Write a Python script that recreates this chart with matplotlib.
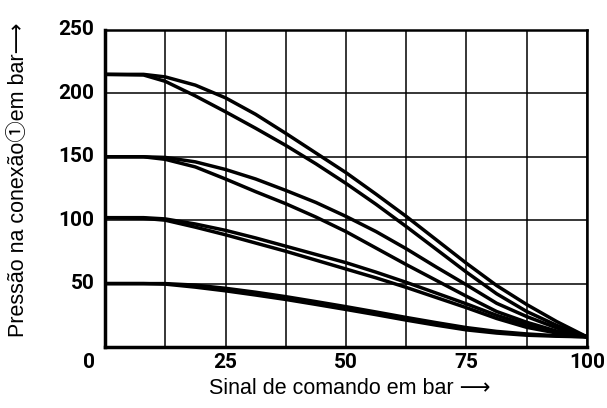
import matplotlib.pyplot as plt
import numpy as np

x_pts = [0, 8, 12.5, 18.75, 25, 31.25, 37.5, 43.75, 50, 56.25, 62.5, 68.75, 75, 81.25, 87.5, 93.75, 100]

p215_upper = [215, 215, 213, 206.5, 196.5, 183.5, 168.5, 153, 137.5, 120.5, 103, 84.5, 66, 48.5, 33.5, 20, 8]
p215_lower = [215, 214.5, 209.5, 198, 185.5, 172.5, 159, 144.5, 129, 112.5, 95, 77, 59, 42, 28, 17, 8]
p150_upper = [150, 150, 149.5, 146, 140, 132.5, 123.5, 114, 103, 91, 77.5, 63, 49, 34.5, 24, 15, 8]
p150_lower = [150, 150, 148, 142, 132.5, 122.5, 113, 102.5, 91, 78, 65, 52.5, 40, 28, 19.5, 12.5, 8]
p100_upper = [102, 102, 101, 97, 92, 86, 79.5, 73, 66.5, 59, 51, 42.5, 34, 25, 17.5, 12, 8]
p100_lower = [102, 101.5, 100, 94.5, 88.5, 82, 75.5, 68.5, 61.5, 54.5, 47, 39, 31, 22.5, 15.5, 11, 8]
p50_upper = [50, 50, 50, 48.8, 46.3, 43.2, 39.7, 35.8, 31.8, 27.6, 23.3, 19.2, 15.3, 12.3, 10.3, 8.9, 8]
p50_lower = [50, 50, 49.6, 47.2, 44.3, 41, 37.5, 33.6, 29.6, 25.5, 21.2, 17.2, 13.5, 11, 9.3, 8.5, 8]

curves = [p215_upper, p215_lower, p150_upper, p150_lower,
          p100_upper, p100_lower, p50_upper, p50_lower]

x_ticks = [25, 50, 75, 100]
y_ticks = [50, 100, 150, 200, 250]

fig = plt.figure(figsize=(6.07, 4.08), dpi=100)
ax = fig.add_axes([0.173, 0.1495, 0.794, 0.777])

for c in curves:
    ax.plot(x_pts, c, color='black', lw=2.5, solid_capstyle='butt',
            solid_joinstyle='round', zorder=3)

ax.set_xlim(0, 100)
ax.set_ylim(0, 250)
ax.set_xticks(np.arange(0, 100.1, 12.5))
ax.set_yticks(y_ticks)
ax.grid(True, color='black', lw=1.1)
ax.set_axisbelow(True)
ax.tick_params(length=0)

# tick labels: only 25/50/75/100 on x, shared "0" at the corner
ax.set_xticklabels([])
ax.set_yticklabels([])
tick_font = dict(family=['Roboto', 'DejaVu Sans'], weight='bold', size=15)
for v in x_ticks:
    ax.text(v, -12, str(v), ha='center', va='center', **tick_font)
for v in y_ticks:
    ax.text(-2.2, v, str(v), ha='right', va='center', **tick_font)
ax.text(-3.3, -12, '0', ha='center', va='center', **tick_font)

for side in ['left', 'bottom']:
    ax.spines[side].set_linewidth(2.5)
for side in ['top', 'right']:
    ax.spines[side].set_linewidth(1.8)

lab_font = dict(family=['Liberation Sans', 'Noto Sans CJK JP', 'DejaVu Sans'], size=15.5)
fig.text(0.577, 0.049, 'Sinal de comando em bar \u27f6', ha='center', va='center', **lab_font)
fig.text(0.03, 0.559, 'Pressão na conexão\u2460em bar\u27f6', rotation=90,
         ha='center', va='center', **lab_font)

fig.savefig('out.png', dpi=100)
